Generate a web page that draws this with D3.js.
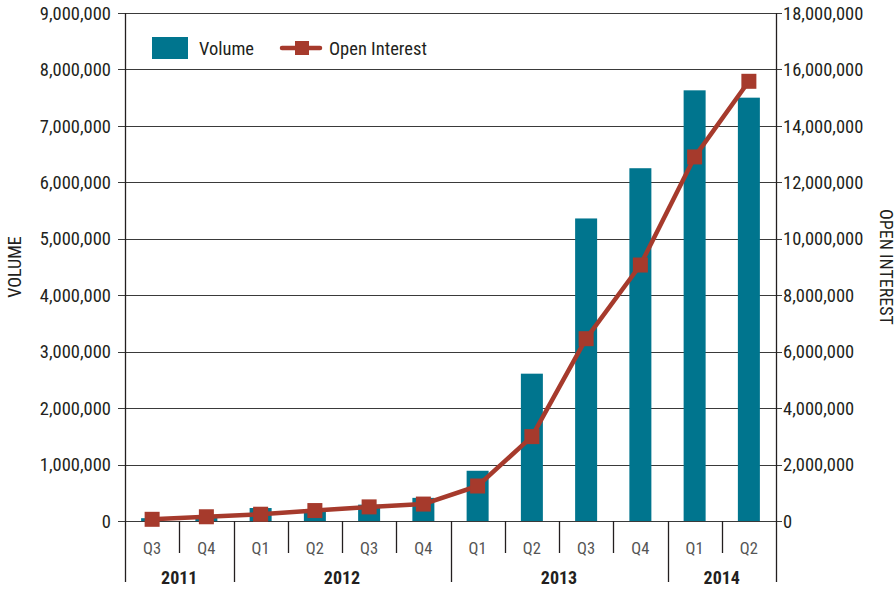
<!DOCTYPE html>
<html>
<head>
<meta charset="utf-8">
<script src="https://cdn.jsdelivr.net/npm/d3@7"></script>
<style>
  body { margin: 0; background: #fff; }
  svg { font-family: "Liberation Sans Narrow", "Roboto Condensed", "Liberation Sans", sans-serif; }
</style>
</head>
<body>
<svg width="896" height="591"></svg>
<script>
    // data
    const quarters = ['Q3', 'Q4', 'Q1', 'Q2', 'Q3', 'Q4', 'Q1', 'Q2', 'Q3', 'Q4', 'Q1', 'Q2'];
    const years = [
        { label: '2011', from: 0, to: 2 },
        { label: '2012', from: 2, to: 6 },
        { label: '2013', from: 6, to: 10 },
        { label: '2014', from: 10, to: 12 }
    ];
    const volume = [50000, 100000, 230000, 190000, 290000, 410000, 890000, 2610000, 5360000, 6250000, 7630000, 7500000];
    const openInterest = [60000, 150000, 240000, 370000, 500000, 600000, 1240000, 2990000, 6460000, 9070000, 12900000, 15580000];
    const leftTicks = d3.range(0, 9000001, 1000000);
    const rightTicks = d3.range(0, 18000001, 2000000);

    const teal = '#00758e';
    const red = '#a63a2c';

    const svg = d3.select('svg');
    const margin = { left: 125, right: 120, top: 13, bottom: 70 };
    const width = 896 - margin.left - margin.right;
    const height = 591 - margin.top - margin.bottom;

    const g = svg.append('g')
        .attr('transform', `translate(${margin.left},${margin.top})`);

    const x = d3.scaleBand()
        .domain(d3.range(quarters.length))
        .range([0, width]);

    const yLeft = d3.scaleLinear().domain([0, 9000000]).range([height, 0]);
    const yRight = d3.scaleLinear().domain([0, 18000000]).range([height, 0]);

    const fmt = d3.format(',');

    // gridlines
    g.selectAll('.grid')
        .data(leftTicks)
        .enter().append('line')
        .attr('class', 'grid')
        .attr('x1', -7)
        .attr('x2', width + 6)
        .attr('y1', d => Math.round(yLeft(d)) + 0.5)
        .attr('y2', d => Math.round(yLeft(d)) + 0.5)
        .attr('stroke', '#3a3a3a')
        .attr('stroke-width', 1);

    // left tick labels
    g.selectAll('.ltick')
        .data(leftTicks)
        .enter().append('text')
        .attr('x', -14)
        .attr('y', d => yLeft(d))
        .attr('dy', '0.36em')
        .attr('text-anchor', 'end')
        .attr('font-size', 18.5)
        .attr('fill', '#231f20')
        .text(d => fmt(d));

    // right tick labels
    g.selectAll('.rtick')
        .data(rightTicks)
        .enter().append('text')
        .attr('x', width + 7)
        .attr('y', d => yRight(d))
        .attr('dy', '0.36em')
        .attr('font-size', 18.5)
        .attr('fill', '#231f20')
        .text(d => fmt(d));

    // bars
    const barW = 22;
    g.selectAll('.bar')
        .data(volume)
        .enter().append('rect')
        .attr('class', 'bar')
        .attr('x', (d, i) => x(i) + x.bandwidth() / 2 - barW / 2)
        .attr('y', d => yLeft(d))
        .attr('width', barW)
        .attr('height', d => height - yLeft(d))
        .attr('fill', teal);

    // axis lines
    g.append('line')
        .attr('x1', 0.5).attr('x2', 0.5)
        .attr('y1', 0).attr('y2', height + 61)
        .attr('stroke', '#231f20').attr('stroke-width', 1.3);
    g.append('line')
        .attr('x1', width + 0.5).attr('x2', width + 0.5)
        .attr('y1', 0).attr('y2', height + 61)
        .attr('stroke', '#231f20').attr('stroke-width', 1.3);

    // open interest line
    const line = d3.line()
        .x((d, i) => x(i) + x.bandwidth() / 2)
        .y(d => yRight(d));

    g.append('path')
        .datum(openInterest)
        .attr('d', line)
        .attr('fill', 'none')
        .attr('stroke', red)
        .attr('stroke-width', 4.5)
        .attr('stroke-linejoin', 'round');

    const mk = 15;
    g.selectAll('.marker')
        .data(openInterest)
        .enter().append('rect')
        .attr('x', (d, i) => x(i) + x.bandwidth() / 2 - mk / 2)
        .attr('y', d => yRight(d) - mk / 2)
        .attr('width', mk)
        .attr('height', mk)
        .attr('fill', red);

    // category axis
    const cat = g.append('g').attr('transform', `translate(0,${height})`);

    cat.selectAll('.qsep')
        .data(d3.range(1, quarters.length))
        .enter().append('line')
        .attr('x1', d => Math.round(x(d)) + 0.5)
        .attr('x2', d => Math.round(x(d)) + 0.5)
        .attr('y1', 0)
        .attr('y2', d => years.some(y => y.from === d) ? 61 : 32)
        .attr('stroke', '#231f20')
        .attr('stroke-width', 1.3);

    cat.selectAll('.qlabel')
        .data(quarters)
        .enter().append('text')
        .attr('x', (d, i) => x(i) + x.bandwidth() / 2)
        .attr('y', 33)
        .attr('text-anchor', 'middle')
        .attr('font-size', 16.5)
        .attr('fill', '#555')
        .text(d => d);

    cat.selectAll('.ylabel')
        .data(years)
        .enter().append('text')
        .attr('x', d => (x(d.from) + (d.to < quarters.length ? x(d.to) : width)) / 2)
        .attr('y', 63)
        .attr('text-anchor', 'middle')
        .attr('font-size', 18)
        .attr('font-weight', 'bold')
        .attr('fill', '#231f20')
        .text(d => d.label);

    // axis titles
    svg.append('text')
        .attr('transform', `translate(21,${margin.top + height / 2}) rotate(-90)`)
        .attr('text-anchor', 'middle')
        .attr('font-size', 18)
        .attr('fill', '#231f20')
        .text('VOLUME');

    svg.append('text')
        .attr('transform', `translate(880,${margin.top + height / 2}) rotate(90)`)
        .attr('text-anchor', 'middle')
        .attr('font-size', 18)
        .attr('fill', '#231f20')
        .text('OPEN INTEREST');

    // legend
    const legend = svg.append('g').attr('transform', 'translate(152,37)');
    legend.append('rect')
        .attr('width', 36).attr('height', 22)
        .attr('fill', teal);
    legend.append('text')
        .attr('x', 47).attr('y', 11).attr('dy', '0.36em')
        .attr('font-size', 18.5).attr('fill', '#231f20')
        .text('Volume');
    legend.append('line')
        .attr('x1', 130).attr('x2', 168)
        .attr('y1', 11).attr('y2', 11)
        .attr('stroke', red).attr('stroke-width', 4.5)
        .attr('stroke-linecap', 'round');
    legend.append('rect')
        .attr('x', 143).attr('y', 4)
        .attr('width', 14).attr('height', 14)
        .attr('fill', red);
    legend.append('text')
        .attr('x', 177).attr('y', 11).attr('dy', '0.36em')
        .attr('font-size', 18.5).attr('fill', '#231f20')
        .text('Open Interest');
</script>
</body>
</html>
